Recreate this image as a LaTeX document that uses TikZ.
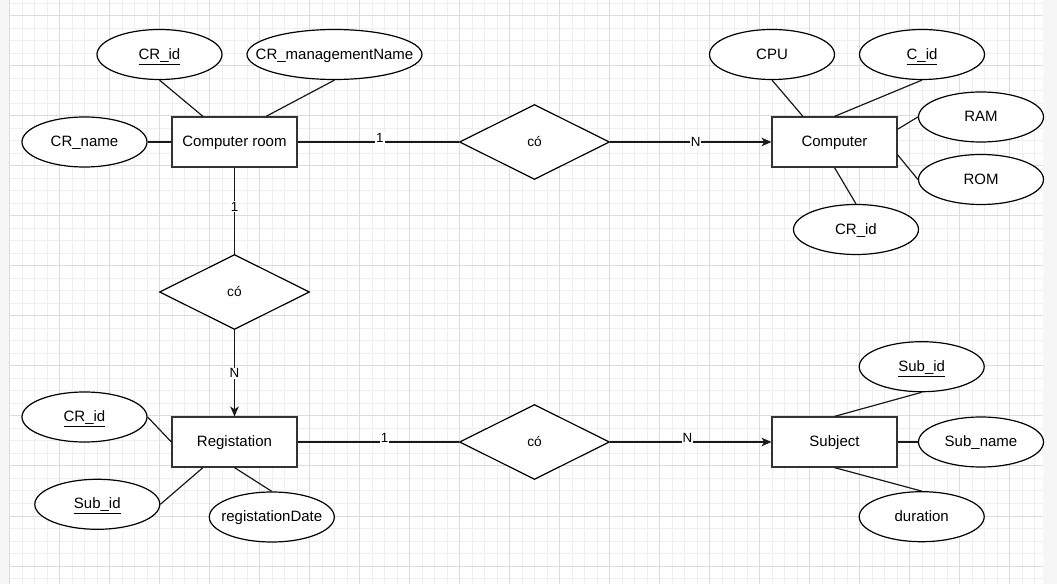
\documentclass[tikz,border=0pt]{standalone}
\usepackage{fontspec}
\setmainfont{Liberation Sans}
\usetikzlibrary{shapes.geometric,arrows.meta,calc}
\definecolor{gridminor}{HTML}{EFEFEF}
\definecolor{gridmajor}{HTML}{DCDCDC}
\definecolor{sidebar}{HTML}{F6F6F6}
% zero-width box so that long labels do not enlarge their ellipse
\newcommand\zw[1]{\makebox[0pt]{#1}}

\begin{document}
\begin{tikzpicture}[x=0.75pt,y=-0.75pt,
  entity/.style={rectangle, draw=black!80, line width=0.9pt, fill=white,
    minimum width=93.75pt, minimum height=37.5pt, inner sep=0pt,
    text height=9.4pt, text depth=2.6pt,
    font=\fontsize{11.25pt}{13pt}\selectfont},
  attr/.style={ellipse, draw=black, line width=0.9pt, fill=white,
    minimum width=93.75pt, minimum height=37.5pt, inner sep=0pt,
    text height=9.4pt, text depth=2.6pt,
    font=\fontsize{11.25pt}{13pt}\selectfont},
  rel/.style={diamond, draw=black, line width=0.9pt, fill=white,
    minimum width=112.5pt, minimum height=56.25pt, inner sep=0pt,
    font=\fontsize{10.3pt}{12pt}\selectfont},
  link/.style={line width=0.9pt, draw=black!90},
  card/.style={fill=white, inner sep=0.8pt, font=\fontsize{10pt}{11pt}\selectfont},
  raised/.style={yshift=2.8pt},
  tip/.style={-{Stealth[length=7.5pt,width=6.5pt,inset=2.2pt]}}
]
\useasboundingbox (0,0) rectangle (1057,584);

% canvas with grid
\fill[white] (0,0) rectangle (1057,584);
\fill[sidebar] (0,0) rectangle (9,584);
\fill[sidebar] (1043,0) rectangle (1057,584);
\foreach \i in {0,...,82}
  \draw[gridminor, line width=0.75pt] ({9.5+12.5*\i},0) -- ({9.5+12.5*\i},584);
\foreach \j in {0,...,46}
  \draw[gridminor, line width=0.75pt] (9,{3.5+12.5*\j}) -- (1043,{3.5+12.5*\j});
\foreach \i in {0,...,20}
  \draw[gridmajor, line width=0.75pt] ({9.5+50*\i},0) -- ({9.5+50*\i},584);
\foreach \j in {0,...,11}
  \draw[gridmajor, line width=0.75pt] (9,{16+50*\j}) -- (1043,{16+50*\j});

% entities
\node[entity] (room) at (234.5,142) {Computer room};
\node[entity] (comp) at (834.5,142) {Computer};
\node[entity] (reg)  at (234.5,442) {Registation};
\node[entity] (subj) at (834.5,442) {Subject};

% relationships
\node[rel] (r1) at (534.5,142) {\zw{có}};
\node[rel] (r2) at (234.5,292) {\zw{có}};
\node[rel] (r3) at (534.5,442) {\zw{có}};

% attributes
\node[attr] (crid1)  at (159.5,54.5) {\zw{\underline{CR\_id}}};
\node[attr, minimum width=131.25pt] (crmgr) at (334.5,54.5) {\zw{CR\_managementName}};
\node[attr] (crname) at (84.5,142) {\zw{CR\_name}};
\node[attr] (cpu)    at (772,54.5) {\zw{CPU}};
\node[attr] (cid)    at (922,54.5) {\zw{\underline{C\_id}}};
\node[attr] (ram)    at (981,117) {\zw{RAM}};
\node[attr] (rom)    at (981,179.5) {\zw{ROM}};
\node[attr] (crid2)  at (856,229.5) {\zw{CR\_id}};
\node[attr] (crid3)  at (84.5,417) {\zw{\underline{CR\_id}}};
\node[attr] (subid1) at (97.3,504.3) {\zw{\underline{Sub\_id}}};
\node[attr] (rdate)  at (271.8,517) {\zw{registationDate}};
\node[attr] (subid2) at (921.7,366.7) {\zw{\underline{Sub\_id}}};
\node[attr] (subname) at (981,442) {\zw{Sub\_name}};
\node[attr] (dur)    at (921.7,516.7) {\zw{duration}};

% attribute links
\draw[link] (crid1.south) -- ($(room.north west)!0.25!(room.north east)$);
\draw[link] (crmgr.south) -- ($(room.north west)!0.75!(room.north east)$);
\draw[link] (crname.east) -- (room.west);
\draw[link] (cpu.south) -- ($(comp.north west)!0.25!(comp.north east)$);
\draw[link] (cid.south) -- (comp.north);
\draw[link] ($(comp.north east)!0.25!(comp.south east)$) -- (ram.west);
\draw[link] ($(comp.north east)!0.75!(comp.south east)$) -- (rom.west);
\draw[link] (comp.south) -- (crid2.north);
\draw[link] (crid3.east) -- (reg.west);
\draw[link] (subid1.east) -- ($(reg.south west)!0.25!(reg.south east)$);
\draw[link] (reg.south) -- (rdate.north);
\draw[link] (subid2.south) -- (subj.north);
\draw[link] (subname.west) -- (subj.east);
\draw[link] (dur.north) -- (subj.south);

% relationship links with cardinalities
\draw[link] (room.east) -- node[card, pos=0.51, raised] {1} (r1.west);
\draw[link, tip] (r1.east) -- node[card, pos=0.53] {N} (comp.west);
\draw[link] (room.south) -- node[card, pos=0.45] {1} (r2.north);
\draw[link, tip] (r2.south) -- node[card, pos=0.5] {N} (reg.north);
\draw[link] (reg.east) -- node[card, pos=0.54, raised] {1} (r3.west);
\draw[link, tip] (r3.east) -- node[card, pos=0.48, raised] {N} (subj.west);
\end{tikzpicture}
\end{document}
